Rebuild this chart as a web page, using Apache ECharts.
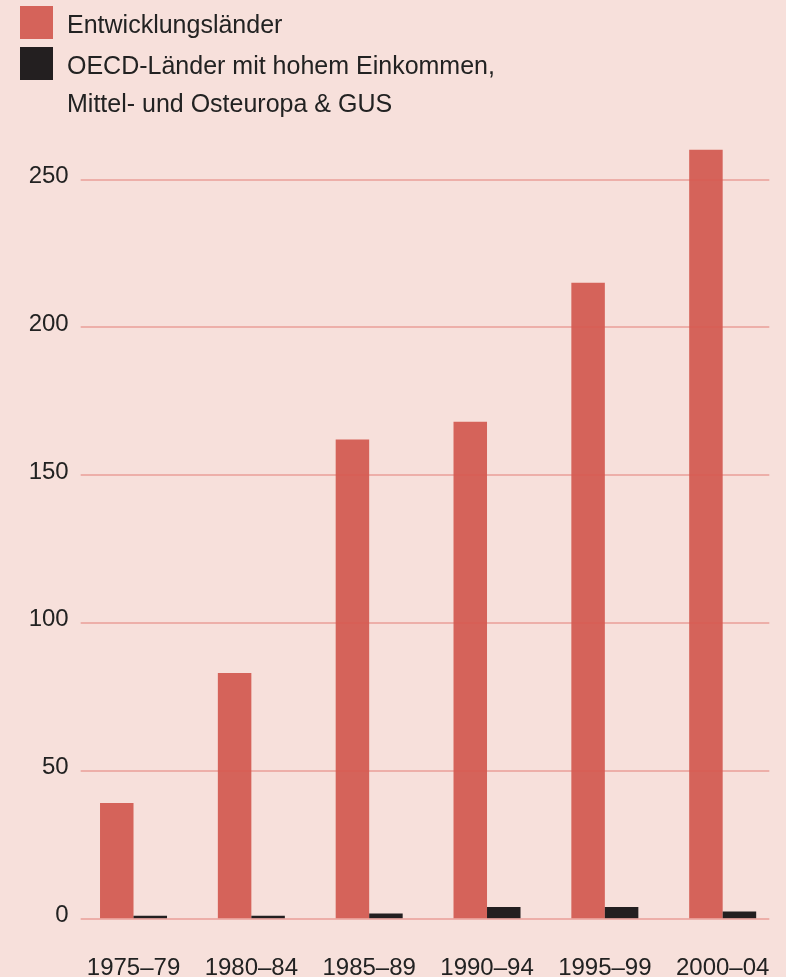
<!DOCTYPE html>
<html>
<head>
<meta charset="utf-8">
<script src="https://cdn.jsdelivr.net/npm/echarts@6/dist/echarts.min.js"></script>
<style>
  html, body { margin: 0; padding: 0; background: #f7e0db; }
  #chart { width: 786px; height: 977px; }
</style>
</head>
<body>
<div id="chart"></div>
<script>
// Zeiträume
var periods = ['1975–79', '1980–84', '1985–89', '1990–94', '1995–99', '2000–04'];
// Entwicklungsländer
var developing = [39, 83, 162, 168, 215, 260];
// OECD-Länder mit hohem Einkommen, Mittel- und Osteuropa & GUS
var oecd = [0.9, 0.9, 1.6, 3.8, 3.8, 2.3];
var yTicks = [0, 50, 100, 150, 200, 250];

var nameDev = 'Entwicklungsländer';
var nameOecd = 'OECD-Länder mit hohem Einkommen,';
var font = 'Liberation Sans';
var ink = '#222222';

var chart = echarts.init(document.getElementById('chart'));

chart.setOption({
  backgroundColor: '#f7e0db',
  animation: false,
  textStyle: { fontFamily: font },
  legend: {
    orient: 'vertical',
    left: 20,
    top: 6,
    padding: 0,
    itemWidth: 33,
    itemHeight: 33,
    itemGap: 8,
    icon: 'rect',
    data: [nameDev, nameOecd],
    formatter: function (name) { return '{t|' + name + '}'; },
    textStyle: {
      fontFamily: font, fontSize: 25, color: ink, padding: [0, 0, 0, 9],
      rich: { t: { fontFamily: font, fontSize: 25, color: ink, padding: [8, 0, 0, 0] } }
    }
  },
  graphic: [{
    type: 'text',
    left: 67,
    top: 93,
    style: { text: 'Mittel- und Osteuropa & GUS', font: '25px "Liberation Sans"', fill: ink }
  }],
  grid: [
    // bars
    { left: 74.6, right: 4.4, top: 179.3, bottom: 58.7, outerBoundsMode: 'none' },
    // horizontal lines + y labels
    { left: 80.7, right: 16.7, top: 179.3, bottom: 58.7, outerBoundsMode: 'none' }
  ],
  xAxis: [{
    type: 'category',
    gridIndex: 0,
    data: periods,
    axisLine: { show: false },
    axisTick: { show: false },
    axisLabel: { fontFamily: font, fontSize: 24, color: ink, margin: 38, interval: 0, hideOverlap: false }
  }, {
    type: 'value',
    gridIndex: 1,
    show: false
  }],
  yAxis: [{
    type: 'value',
    gridIndex: 0,
    min: 0,
    max: 250,
    interval: 50,
    show: false
  }, {
    type: 'value',
    gridIndex: 1,
    min: 0,
    max: 250,
    interval: 50,
    z: 5,
    axisLine: { show: false },
    axisTick: { show: false },
    axisLabel: {
      fontFamily: font, fontSize: 24, color: ink, margin: 12,
      verticalAlign: 'bottom', lineHeight: 6,
      formatter: function (v) { return yTicks.indexOf(v) >= 0 ? String(v) : ''; }
    },
    splitLine: { lineStyle: { color: 'rgba(220,90,80,0.36)', width: 2 } }
  }],
  series: [{
    name: nameDev,
    type: 'bar',
    xAxisIndex: 0,
    yAxisIndex: 0,
    data: developing,
    barWidth: 33.5,
    barGap: 0,
    clip: false,
    itemStyle: { color: '#d5635a' }
  }, {
    name: nameOecd,
    type: 'bar',
    xAxisIndex: 0,
    yAxisIndex: 0,
    data: oecd,
    barWidth: 33.5,
    barGap: 0,
    clip: false,
    itemStyle: { color: '#231f20' }
  }]
});
</script>
</body>
</html>
